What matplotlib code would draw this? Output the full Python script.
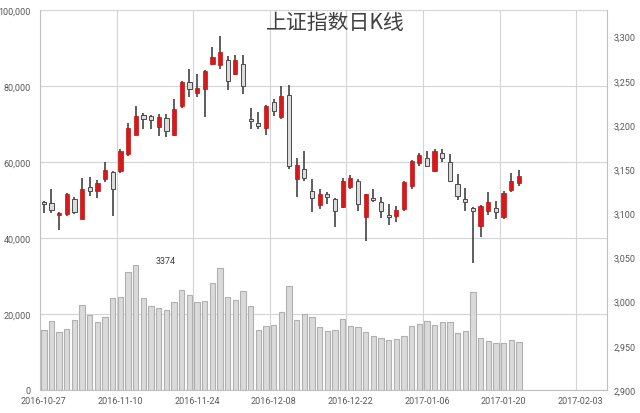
import matplotlib
matplotlib.use('Agg')
import matplotlib.pyplot as plt
from matplotlib.ticker import FuncFormatter, MultipleLocator
import numpy as np

plt.rcParams['font.family'] = ['Roboto', 'DejaVu Sans']

# Trading days (categories); the axis shows 74 category slots
dates = ['2016-10-27', '2016-10-28', '2016-10-31', '2016-11-01', '2016-11-02', '2016-11-03',
         '2016-11-04', '2016-11-07', '2016-11-08', '2016-11-09', '2016-11-10', '2016-11-11',
         '2016-11-14', '2016-11-15', '2016-11-16', '2016-11-17', '2016-11-18', '2016-11-21',
         '2016-11-22', '2016-11-23', '2016-11-24', '2016-11-25', '2016-11-28', '2016-11-29',
         '2016-11-30', '2016-12-01', '2016-12-02', '2016-12-05', '2016-12-06', '2016-12-07',
         '2016-12-08', '2016-12-09', '2016-12-12', '2016-12-13', '2016-12-14', '2016-12-15',
         '2016-12-16', '2016-12-19', '2016-12-20', '2016-12-21', '2016-12-22', '2016-12-23',
         '2016-12-26', '2016-12-27', '2016-12-28', '2016-12-29', '2016-12-30', '2017-01-03',
         '2017-01-04', '2017-01-05', '2017-01-06', '2017-01-09', '2017-01-10', '2017-01-11',
         '2017-01-12', '2017-01-13', '2017-01-16', '2017-01-17', '2017-01-18', '2017-01-19',
         '2017-01-20', '2017-01-23', '2017-01-24']

opens = [3113, 3112, 3098, 3099, 3116, 3094, 3130, 3125, 3139, 3147,
         3148, 3167, 3189, 3211, 3210, 3198, 3208, 3189, 3221, 3248,
         3236, 3241, 3269, 3268, 3273, 3258, 3269, 3207, 3202, 3197,
         3226, 3209, 3234, 3139, 3150, 3125, 3109, 3122, 3116, 3107,
         3130, 3137, 3096, 3117, 3113, 3098, 3097, 3105, 3131, 3157,
         3163, 3148, 3168, 3158, 3133, 3116, 3106, 3086, 3103, 3106,
         3096, 3126, 3134]
highs = [3114, 3127, 3101, 3123, 3118, 3140, 3141, 3138, 3158, 3148,
         3173, 3202, 3221, 3214, 3211, 3212, 3212, 3229, 3250, 3263,
         3258, 3262, 3288, 3301, 3278, 3279, 3279, 3219, 3215, 3222,
         3229, 3244, 3245, 3162, 3170, 3139, 3128, 3124, 3117, 3140,
         3143, 3139, 3122, 3128, 3118, 3110, 3108, 3136, 3160, 3168,
         3171, 3173, 3173, 3167, 3144, 3129, 3107, 3109, 3124, 3114,
         3125, 3146, 3149]
lows = [3100, 3100, 3081, 3097, 3099, 3093, 3119, 3117, 3135, 3097,
        3146, 3165, 3188, 3195, 3195, 3187, 3186, 3187, 3219, 3231,
        3231, 3209, 3268, 3263, 3240, 3256, 3235, 3195, 3195, 3189,
        3210, 3207, 3150, 3118, 3137, 3101, 3105, 3110, 3084, 3106,
        3127, 3103, 3069, 3113, 3095, 3087, 3090, 3103, 3128, 3154,
        3152, 3147, 3158, 3136, 3115, 3103, 3044, 3073, 3098, 3094,
        3094, 3124, 3131]
closes = [3110, 3104, 3100, 3122, 3101, 3128, 3125, 3134, 3149, 3128,
          3171, 3197, 3210, 3207, 3206, 3209, 3193, 3218, 3248, 3241,
          3242, 3261, 3277, 3282, 3250, 3273, 3244, 3204, 3199, 3221,
          3216, 3233, 3153, 3155, 3140, 3117, 3122, 3118, 3103, 3137,
          3140, 3110, 3122, 3115, 3102, 3096, 3104, 3135, 3159, 3166,
          3154, 3171, 3162, 3137, 3119, 3113, 3103, 3108, 3113, 3101,
          3123, 3137, 3142]
volumes = [15770, 18230, 15160, 16040, 18410, 22370, 19730, 17970, 19120, 24140,
           24570, 31180, 32950, 24140, 22190, 21500, 21060, 23090, 26340, 25020,
           23250, 23510, 28190, 32150, 24410, 23780, 25990, 22190, 15770, 16910,
           17090, 20440, 27480, 18490, 20000, 19120, 16480, 15420, 15770, 18680,
           16740, 16650, 15160, 14100, 13570, 13210, 13390, 14200, 16740, 17360,
           18230, 17090, 17970, 17800, 14980, 15590, 25730, 13570, 12950, 12340,
           12340, 13210, 12520]

n_slots = 74
tick_labels = ['2016-10-27', '2016-11-10', '2016-11-24', '2016-12-08',
               '2016-12-22', '2017-01-06', '2017-01-20', '2017-02-03']
title = '上证指数日K线'
note = '3374'

fig = plt.figure(figsize=(6.4, 4.14), dpi=100)
ax = fig.add_axes([40 / 640, 1 - 391 / 414, 567 / 640, 380 / 414])

x = np.arange(len(dates))
ax.bar(x, volumes, width=0.7, color='#dadada', edgecolor='#b0b0b0', linewidth=0.8, zorder=2)
ax.set_xlim(-0.5, n_slots - 0.5)
ax.set_ylim(0, 100000)
ax.yaxis.set_major_locator(MultipleLocator(20000))
ax.yaxis.set_major_formatter(FuncFormatter(lambda v, p: f'{int(v):,}'))
ax.set_xticks(np.arange(0, n_slots, 10))
ax.set_xticklabels(tick_labels)
ax.set_xticks(np.arange(-0.5, n_slots, 10), minor=True)
ax.grid(axis='y', which='major', color='#d4d4d4', lw=0.8, zorder=0)
ax.grid(axis='x', which='minor', color='#d4d4d4', lw=0.8, zorder=0)
ax.set_axisbelow(True)
ax.tick_params(axis='both', which='both', length=0, labelsize=6.5, colors='#595959')
ax.tick_params(axis='y', pad=6.5)
ax.tick_params(axis='x', pad=4)
for s in ax.spines.values():
    s.set_color('#c0c0c0')
    s.set_linewidth(0.8)
ax.spines['top'].set_visible(False)

ax.text(15.9, 34000, note, fontsize=6.5, color='#404040', ha='center', va='center')

ax2 = ax.twinx()
ax2.set_ylim(2900, 3330)
ax2.set_yticks(np.arange(2900, 3301, 50))
ax2.yaxis.set_major_formatter(FuncFormatter(lambda v, p: f'{int(v):,}'))
ax2.tick_params(axis='y', length=0, labelsize=6.5, colors='#595959', pad=4.5)
for s in ax2.spines.values():
    s.set_visible(False)

o = np.array(opens, float)
c = np.array(closes, float)
up = c >= o
ax2.vlines(x, lows, highs, color='#333333', lw=1.1, zorder=3)
bottoms = np.minimum(o, c)
heights = np.maximum(np.abs(c - o), 1.2)
ax2.bar(x[up], heights[up], bottom=bottoms[up], width=0.55,
        color='#d7191c', edgecolor='#c01010', linewidth=0.5, zorder=4)
ax2.bar(x[~up], heights[~up], bottom=bottoms[~up], width=0.55,
        color='#dcdcdc', edgecolor='#4a4a4a', linewidth=0.7, zorder=4)

fig.text(335 / 640, 1 - 23 / 414, title, fontsize=15,
         family=['Noto Sans CJK SC', 'DejaVu Sans'], color='#404040',
         ha='center', va='center')

fig.savefig('out.png', dpi=100)
